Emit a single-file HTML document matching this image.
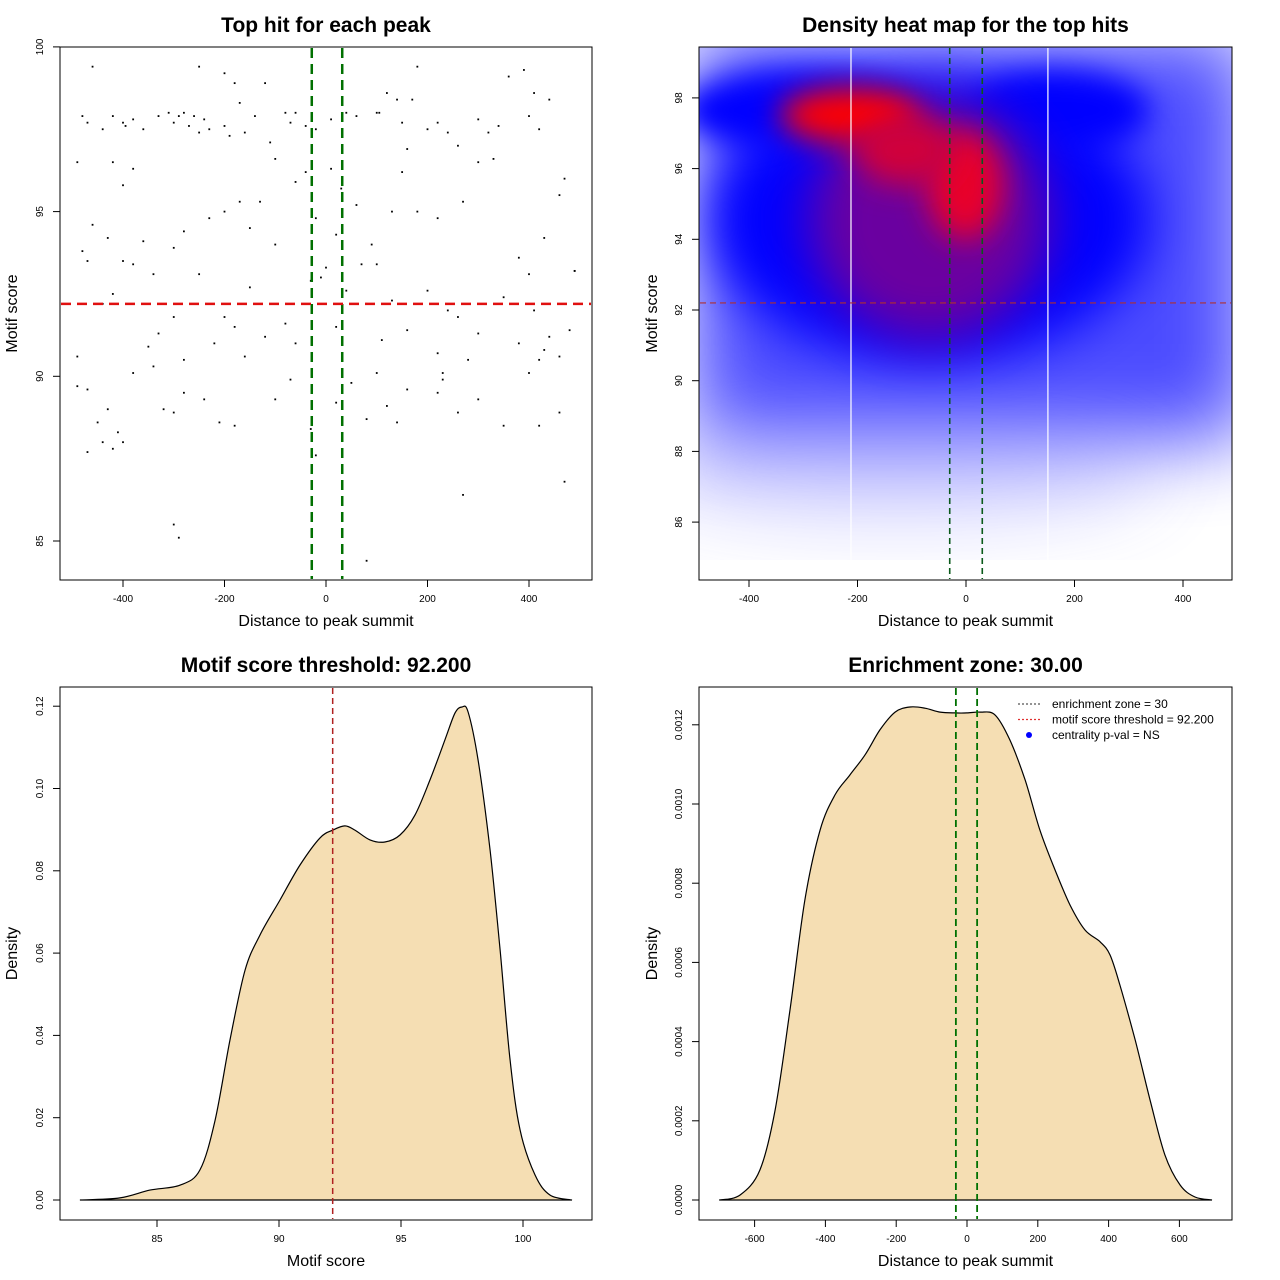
<!DOCTYPE html>
<html><head><meta charset="utf-8"><style>
body{margin:0;background:#fff}
svg{display:block;font-family:"Liberation Sans",sans-serif}
</style></head><body>
<svg id="c" width="1280" height="1280" viewBox="0 0 1280 1280">
<defs>
<clipPath id="hc"><rect x="699" y="47" width="533" height="533"/></clipPath>
<filter id="b40" x="-50%" y="-50%" width="200%" height="200%"><feGaussianBlur stdDeviation="40"/></filter>
<filter id="b25" x="-50%" y="-50%" width="200%" height="200%"><feGaussianBlur stdDeviation="25"/></filter>
<filter id="b15" x="-50%" y="-50%" width="200%" height="200%"><feGaussianBlur stdDeviation="15"/></filter>
</defs>
<g id="heat" clip-path="url(#hc)">
<rect x="699" y="47" width="533" height="533" fill="#fff"/>
<rect x="690" y="30" width="560" height="410" fill="#0000ff" opacity="0.7" filter="url(#b40)"/>
<ellipse cx="900" cy="470" rx="260" ry="45" fill="#6060ff" opacity="0.3" filter="url(#b40)"/>
<ellipse cx="930" cy="220" rx="220" ry="140" fill="#0000ff" filter="url(#b25)"/>
<ellipse cx="800" cy="110" rx="120" ry="40" fill="#0000ff" filter="url(#b15)"/>
<ellipse cx="1060" cy="110" rx="90" ry="40" fill="#0000ff" filter="url(#b15)"/>
<ellipse cx="930" cy="220" rx="120" ry="120" fill="#6a00a0" filter="url(#b25)"/>
<ellipse cx="850" cy="115" rx="70" ry="28" fill="#ff0000" filter="url(#b15)"/>
<ellipse cx="965" cy="185" rx="38" ry="55" fill="#e8002a" filter="url(#b15)"/>
<ellipse cx="905" cy="150" rx="50" ry="35" fill="#d0003a" filter="url(#b15)"/>
</g>
<g id="layer"></g>
</svg>
<script>
var NS='http://www.w3.org/2000/svg';
var L=document.getElementById('layer');
// panel 1 scatter data
var scatterDist=[-480,-470,-440,-420,-400,-395,-380,-360,-330,-310,-300,-290,-280,-270,-260,-250,-240,-230,-200,-190,-170,-160,-140,-120,-80,-70,-60,-40,-20,10,40,60,100,105,150,170,200,220,240,260,300,320,340,400,420,440,
-420,-490,-400,-380,-430,-400,-380,-360,-340,-300,-280,-250,-230,-200,-170,-150,-130,-100,-60,-40,-20,10,20,30,60,90,100,130,150,180,220,270,300,330,380,400,430,460,470,490,
-480,-460,-440,-470,-420,-350,-330,-300,-280,-220,-200,-180,-150,-120,-80,-60,-30,-10,0,20,40,70,80,110,130,160,200,220,240,260,280,300,350,380,410,420,440,460,480,490,
-490,-490,-470,-430,-380,-340,-320,-300,-280,-240,-210,-180,-160,-100,-70,-30,-20,20,50,80,100,120,140,160,220,230,230,260,300,350,400,420,430,460,470,270,
-440,-420,-410,-400,-470,-450,-300,-290,80,-460,-250,-200,-180,120,140,180,360,390,410,160,-100,-110];
var scatterScore=[97.9,97.7,97.5,97.9,97.7,97.6,97.8,97.5,97.9,98.0,97.7,97.9,98.0,97.6,97.9,97.4,97.8,97.5,97.6,97.3,98.3,97.4,97.9,98.9,98.0,97.7,98.0,97.6,97.5,97.8,98.0,97.9,98.0,98.0,97.7,98.4,97.5,97.7,97.4,97.0,97.8,97.4,97.6,97.9,97.5,98.4,
96.5,96.5,95.8,96.3,94.2,93.5,93.4,94.1,93.1,93.9,94.4,93.1,94.8,95.0,95.3,94.5,95.3,94.0,95.9,96.2,94.8,96.3,94.3,95.7,95.2,94.0,93.4,95.0,96.2,95.0,94.8,95.3,96.5,96.6,93.6,93.1,94.2,95.5,96.0,93.2,
93.8,94.6,92.2,93.5,92.5,90.9,91.3,91.8,90.5,91.0,91.8,91.5,92.7,91.2,91.6,91.0,92.9,93.0,93.3,91.5,92.6,93.4,92.2,91.1,92.3,91.4,92.6,90.7,92.0,91.8,90.5,91.3,92.4,91.0,92.0,90.5,91.2,90.6,91.4,93.2,
90.6,89.7,89.6,89.0,90.1,90.3,89.0,88.9,89.5,89.3,88.6,88.5,90.6,89.3,89.9,88.4,87.6,89.2,89.8,88.7,90.1,89.1,88.6,89.6,89.5,89.9,90.1,88.9,89.3,88.5,90.1,88.5,90.8,88.9,86.8,86.4,
88.0,87.8,88.3,88.0,87.7,88.6,85.5,85.1,84.4,99.4,99.4,99.2,98.9,98.6,98.4,99.4,99.1,99.3,98.6,96.9,96.6,97.1];
// panel 3 density
var scoreX=[81.84,83.48,84.71,85.94,86.76,87.38,87.99,88.61,89.22,90.04,90.86,91.68,92.21,92.70,93.11,93.73,94.34,94.96,95.57,96.19,96.80,97.21,97.50,97.75,98.16,98.65,99.06,99.47,99.88,100.49,101.11,102.01];
var scoreDens=[0,0.0005,0.0024,0.0036,0.0073,0.0194,0.0389,0.0559,0.0644,0.0729,0.0814,0.0880,0.0899,0.0909,0.0899,0.0875,0.0870,0.0887,0.0935,0.1021,0.1118,0.1183,0.1198,0.1186,0.1069,0.0850,0.0608,0.0340,0.0170,0.0061,0.0012,0];
// panel 4 density
var distX=[-700,-641,-585,-542,-500,-458,-415,-373,-331,-288,-246,-203,-161,-119,-76,-34,0,37,79,121,164,206,249,291,333,376,404,432,475,517,559,602,644,692];
var distDens=[0,0.0000126,0.0000758,0.000227,0.00048,0.000758,0.000934,0.001023,0.001073,0.001124,0.001187,0.001232,0.001245,0.001242,0.001232,0.00123,0.00123,0.001232,0.001225,0.001162,0.001061,0.000934,0.000833,0.000745,0.000682,0.000652,0.000619,0.000543,0.000404,0.000253,0.000114,0.0000379,0.0000076,0];
var threshold=92.2, zone=30;
var p1XTicks=[-400,-200,0,200,400], p1YTicks=[85,90,95,100];
var p2XTicks=[-400,-200,0,200,400], p2YTicks=[86,88,90,92,94,96,98];
var p3XTicks=[85,90,95,100], p3YTicks=[0,0.02,0.04,0.06,0.08,0.10,0.12];
var p3YLabels=['0.00','0.02','0.04','0.06','0.08','0.10','0.12'];
var p4XTicks=[-600,-400,-200,0,200,400,600], p4YTicks=[0,0.0002,0.0004,0.0006,0.0008,0.001,0.0012];
var p4YLabels=['0.0000','0.0002','0.0004','0.0006','0.0008','0.0010','0.0012'];

function mk(tag,a,txt){var e=document.createElementNS(NS,tag);for(var k in a)e.setAttribute(k,a[k]);if(txt!=null)e.textContent=txt;L.appendChild(e);return e;}

var x1=function(d){return 326+d*0.5075;}, y1=function(s){return 541-(s-85)*32.94;};
var x2=function(d){return 966+d*0.5425;}, y2=function(s){return 310-(s-92)*35.35;};
var x3=function(v){return 279+(v-90)*24.4;}, y3=function(d){return 1200-d*4115;};
var x4=function(v){return 967+v*0.354;}, y4=function(d){return 1200-d*396000;};

function smooth(P){var d='M'+P[0][0].toFixed(1)+','+P[0][1].toFixed(1);
  for(var i=0;i<P.length-1;i++){var p0=P[Math.max(i-1,0)],p1=P[i],p2=P[i+1],p3=P[Math.min(i+2,P.length-1)];
    var c1x=p1[0]+(p2[0]-p0[0])/6,c1y=p1[1]+(p2[1]-p0[1])/6,c2x=p2[0]-(p3[0]-p1[0])/6,c2y=p2[1]-(p3[1]-p1[1])/6;
    d+=' C'+c1x.toFixed(1)+','+c1y.toFixed(1)+' '+c2x.toFixed(1)+','+c2y.toFixed(1)+' '+p2[0].toFixed(1)+','+p2[1].toFixed(1);}
  return d+' Z';}

function axes(bx,by,bw,bh,xs,ys,xt,yt,xl,yl,title,xlab,ylab,p){
  var r=mk('rect',{x:bx,y:by,width:bw,height:bh,fill:'none',stroke:'#000','stroke-width':1});
  
  
  var t=mk('text',{x:bx+bw/2,y:by-15,'text-anchor':'middle','font-size':21,'font-weight':'bold'},title);
  
  
  var xa=mk('text',{x:bx+bw/2,y:by+bh+46,'text-anchor':'middle','font-size':16},xlab);
  
  
  var cx=17+(bx>600?640:0), cy=by+bh/2;
  var ya=mk('text',{x:cx,y:cy,'text-anchor':'middle','font-size':16,transform:'rotate(-90 '+cx+' '+cy+')'},ylab);
  
  
  var b=by+bh;
  mk('line',{x1:xs(xt[0]),x2:xs(xt[xt.length-1]),y1:b,y2:b,stroke:'#000'});
  xt.forEach(function(v,i){var X=xs(v);mk('line',{x1:X,x2:X,y1:b,y2:b+7,stroke:'#000'});
    var tl=mk('text',{x:X,y:b+22,'text-anchor':'middle','font-size':10},xl?xl[i]:String(v));
    
    });
  mk('line',{x1:bx,x2:bx,y1:ys(yt[0]),y2:ys(yt[yt.length-1]),stroke:'#000'});
  yt.forEach(function(v,i){var Y=ys(v);mk('line',{x1:bx-7,x2:bx,y1:Y,y2:Y,stroke:'#000'});
    var tx=bx-17;var tl=mk('text',{x:tx,y:Y,'text-anchor':'middle','font-size':10,transform:'rotate(-90 '+tx+' '+Y+')'},yl?yl[i]:String(v));
    
    });
}

// panel 1
axes(60,47,532,533,x1,y1,p1XTicks,p1YTicks,null,null,'Top hit for each peak','Distance to peak summit','Motif score','p1');
scatterDist.forEach(function(d,i){var c=mk('rect',{x:x1(d)-0.9,y:y1(scatterScore[i])-0.9,width:1.8,height:1.8,fill:'#000'});
  
  });
[-zone,zone].forEach(function(z){var l=mk('line',{x1:x1(z)+1,x2:x1(z)+1,y1:48,y2:579,stroke:'#007000','stroke-width':2.5,'stroke-dasharray':'10 6'});
  
  });
var h1=mk('line',{x1:61,x2:591,y1:y1(threshold),y2:y1(threshold),stroke:'#e01010','stroke-width':2.5,'stroke-dasharray':'10 6'});



// panel 2
axes(699,47,533,533,x2,y2,p2XTicks,p2YTicks,null,null,'Density heat map for the top hits','Distance to peak summit','Motif score','p2');
[x2(-212),x2(151)].forEach(function(X){var l=mk('line',{x1:X,x2:X,y1:48,y2:579,stroke:'#fff','stroke-width':1.2});
  
  });
[-zone,zone].forEach(function(z){var l=mk('line',{x1:x2(z),x2:x2(z),y1:48,y2:579,stroke:'#0a5a1a','stroke-width':1.6,'stroke-dasharray':'6 4'});
  
  });
var h2=mk('line',{x1:700,x2:1231,y1:y2(threshold),y2:y2(threshold),stroke:'#b03030','stroke-width':1.2,'stroke-dasharray':'6 4'});



// panel 3
axes(60,687,532,533,x3,y3,p3XTicks,p3YTicks,null,p3YLabels,'Motif score threshold: 92.200','Motif score','Density','p3');
var a3=mk('path',{d:smooth(scoreX.map(function(v,i){return [x3(v),y3(scoreDens[i])];})),fill:'#f5deb3',stroke:'#000','stroke-width':1.2});


var v3=mk('line',{x1:x3(threshold),x2:x3(threshold),y1:688,y2:1219,stroke:'#b02020','stroke-width':1.5,'stroke-dasharray':'6 4'});



// panel 4
axes(699,687,533,533,x4,y4,p4XTicks,p4YTicks,null,p4YLabels,'Enrichment zone: 30.00','Distance to peak summit','Density','p4');
var a4=mk('path',{d:smooth(distX.map(function(v,i){return [x4(v),y4(distDens[i])];})),fill:'#f5deb3',stroke:'#000','stroke-width':1.2});


[-zone,zone].forEach(function(z){var l=mk('line',{x1:x4(z)-0.5,x2:x4(z)-0.5,y1:688,y2:1219,stroke:'#007000','stroke-width':1.8,'stroke-dasharray':'7 4'});
  
  });
// legend
var lg=[['#555','enrichment zone = 30'],['#e03030','motif score threshold = 92.200'],['#0000ff','centrality p-val = NS']];
lg.forEach(function(e,i){var Y=704+i*15.5;
  if(i<2){var l=mk('line',{x1:1018,x2:1042,y1:Y,y2:Y,stroke:e[0],'stroke-width':1.2,'stroke-dasharray':'2 2'});
    
    }
  else{var c=mk('circle',{cx:1029,cy:Y,r:3,fill:e[0]});
    
    }
  var t=mk('text',{x:1052,y:Y+4,'font-size':12},e[1]);
  
  });
</script>
</body></html>
